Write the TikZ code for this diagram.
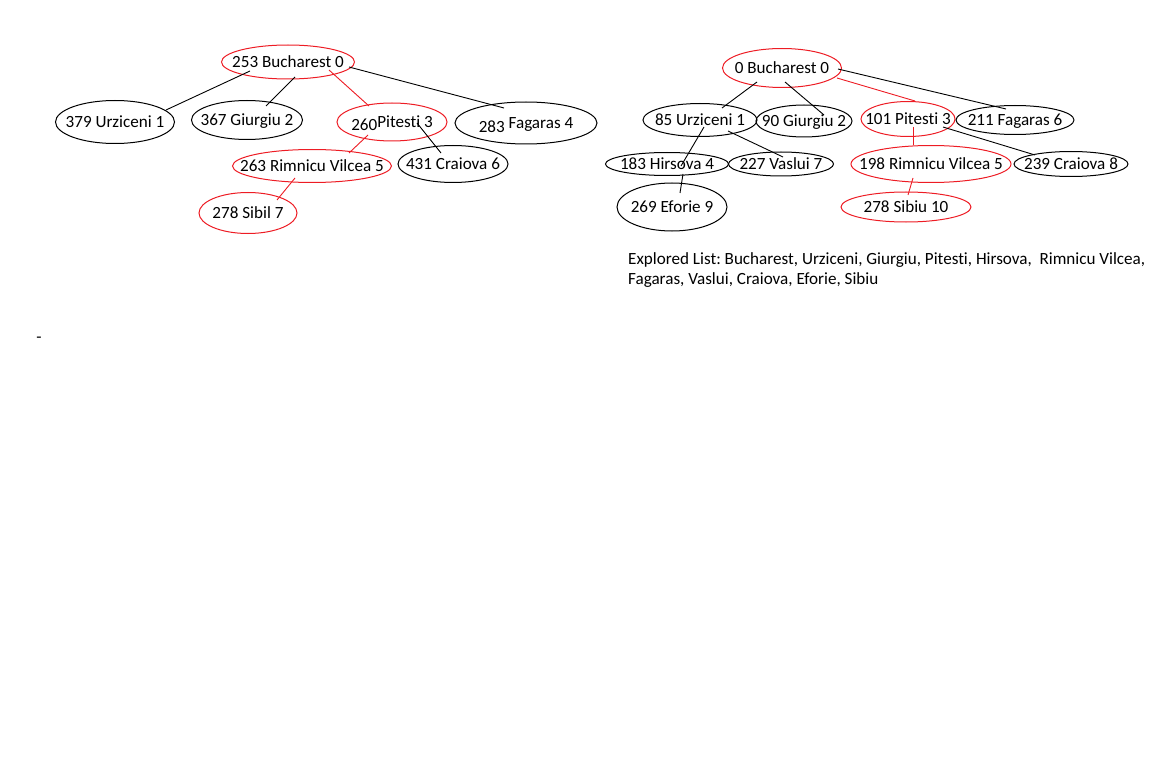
\documentclass[tikz,border=0pt]{standalone}
\usepackage{fontspec}
\setmainfont{Carlito}[Ligatures=NoCommon]
\usepackage{tikz}
\usetikzlibrary{shapes.geometric, calc}
\definecolor{paintred}{RGB}{237,28,36}
\newcommand{\nm}[1]{\makebox[0pt]{#1}}
\frenchspacing

\begin{document}
\begin{tikzpicture}[x=1pt, y=-1pt, font=\fontsize{17.1}{20}\selectfont,
    city/.style 2 args={ellipse, draw, line width=1pt, inner sep=0pt, minimum width=#1pt, minimum height=#2pt, text height=11pt, text depth=0pt},
    seen/.style={draw=paintred},
    link/.style={line width=0.9pt},
    redlink/.style={link, paintred}
  ]
    \useasboundingbox (0,0) rectangle (1152,765);

    % Left tree
    \node[city={133}{34}, seen] (b1) at (288, 62) {\nm{253 Bucharest 0}};
    \node[city={119}{43}] (u1) at (115, 122) {\nm{379 Urziceni 1}};
    \node[city={111}{39}] (g1) at (247, 120) {\nm{367 Giurgiu 2}};
    \node[city={110}{38}, seen] (p1) at (392, 122) {\nm{\raisebox{-3pt}{260}Pitesti 3}};
    \node[city={142}{42}] (f1) at (526, 123) {\nm{\raisebox{-4pt}{283} Fagaras 4}};
    \node[city={159}{33}, seen] (r1) at (312, 166) {\nm{263 Rimnicu Vilcea 5}};
    \node[city={110}{37}] (c1) at (453, 164) {\nm{431 Craiova 6}};
    \node[city={98}{41}, seen] (s1) at (248, 213) {\nm{278 Sibil 7}};

    \draw[link] ($(b1)+(-38,9)$) -- ($(u1)+(51,-12)$);
    \draw[link] ($(b1)+(7,15)$) -- ($(g1)+(19,-14)$);
    \draw[redlink] ($(b1)+(41,8)$) -- ($(p1)+(-23,-16)$);
    \draw[link] ($(b1)+(61,5)$) -- ($(f1)+(-22,-15)$);
    \draw[redlink] ($(p1)+(-24,13)$) -- ($(r1)+(37,-13)$);
    \draw[link] ($(p1)+(25,1)$) -- ($(c1)+(-12,-11)$);
    \draw[redlink] ($(r1)+(-17,12)$) -- ($(s1)+(29,-13)$);

    % Right tree
    \node[city={119}{39}, seen] (b2) at (782, 68) {\nm{0 Bucharest 0}};
    \node[city={114}{33}] (u2) at (700, 120) {\nm{85 Urziceni 1}};
    \node[city={96}{32}] (g2) at (804, 121) {\nm{90 Giurgiu 2}};
    \node[city={94}{35}, seen] (p2) at (908, 119) {\nm{101 Pitesti 3}};
    \node[city={118}{29}] (f2) at (1015, 120) {\nm{211 Fagaras 6}};
    \node[city={123}{23}] (h2) at (667, 164) {\nm{183 Hirsova 4}};
    \node[city={105}{24}] (v2) at (781, 164) {\nm{227 Vaslui 7}};
    \node[city={160}{37}, seen] (r2) at (931, 164) {\nm{198 Rimnicu Vilcea 5}};
    \node[city={114}{25}] (c2) at (1071, 164) {\nm{239 Craiova 8}};
    \node[city={110}{48}] (e2) at (672, 207) {\nm{269 Eforie 9}};
    \node[city={130}{30}, seen] (s2) at (906, 207) {\nm{278 Sibiu 10}};

    \draw[link] ($(b2)+(-25,14)$) -- ($(u2)+(22,-12)$);
    \draw[link] ($(b2)+(3,14)$) -- ($(g2)+(20,-6)$);
    \draw[redlink] ($(b2)+(55,10)$) -- ($(p2)+(7,-18)$);
    \draw[link] ($(b2)+(56,1)$) -- ($(f2)+(-9,-11)$);
    \draw[link] ($(u2)+(4,7)$) -- ($(h2)+(14,2)$);
    \draw[link] ($(u2)+(28,11)$) -- ($(v2)+(2,-7)$);
    \draw[link] ($(h2)+(16,10)$) -- ($(e2)+(8,-14)$);
    \draw[redlink] ($(p2)+(5,8)$) -- ($(r2)+(-18,-19)$);
    \draw[link] ($(p2)+(35,8)$) -- ($(c2)+(-36,-9)$);
    \draw[redlink] ($(r2)+(-18,14)$) -- ($(s2)+(2,-12)$);

    % Explored list
    \node[anchor=north west, align=left, inner sep=0pt, font=\fontsize{17.1}{20.5}\selectfont] (explored) at (628, 252)
      {Explored List: Bucharest, Urziceni, Giurgiu, Pitesti, Hirsova,~ Rimnicu Vilcea,\\
       Fagaras, Vaslui, Craiova, Eforie, Sibiu};

    \node[inner sep=0pt] (dash) at (39, 340) {-};

\end{tikzpicture}
\end{document}
